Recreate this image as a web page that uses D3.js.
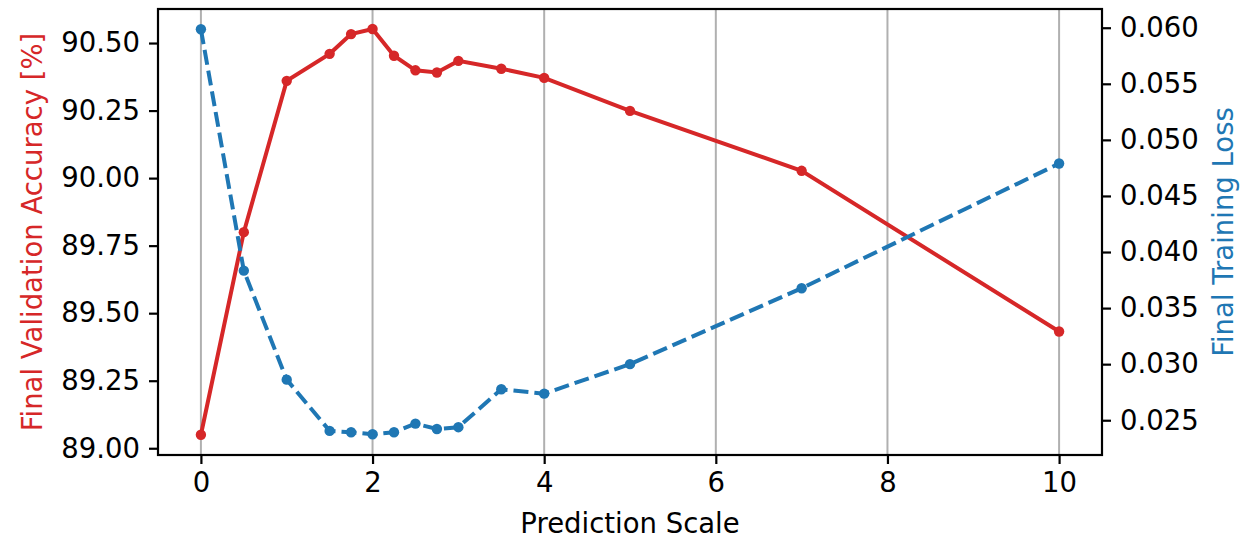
<!DOCTYPE html>
<html>
<head>
<meta charset="utf-8">
<script src="https://cdn.jsdelivr.net/npm/d3@7"></script>
<style>
  body { margin: 0; background: #fff; }
  svg text { font-family: "DejaVu Sans", sans-serif; }
</style>
</head>
<body>
<div id="chart"></div>
<script>
// data
var scales = [0, 0.5, 1, 1.5, 1.75, 2, 2.25, 2.5, 2.75, 3, 3.5, 4, 5, 7, 10];
var accuracy = [89.05, 89.80, 90.36, 90.46, 90.533, 90.552, 90.453, 90.399, 90.391, 90.434, 90.405, 90.371, 90.249, 90.027, 89.432];
var loss = [0.05986, 0.03834, 0.02862, 0.02405, 0.02393, 0.02375, 0.02393, 0.0247, 0.02422, 0.02438, 0.02776, 0.02737, 0.0300, 0.03677, 0.04789];
var xTicks = [0, 2, 4, 6, 8, 10];
var accTicks = [89.00, 89.25, 89.50, 89.75, 90.00, 90.25, 90.50];
var lossTicks = [0.025, 0.030, 0.035, 0.040, 0.045, 0.050, 0.055, 0.060];

var w = 1241;
var h = 538;
var plotL = 158, plotR = 1102, plotT = 9, plotB = 455;
var red = "#d62728", blue = "#1f77b4";
var fs = 27.5;

var svg = d3.select("#chart")
            .append("svg")
            .attr("width", w)
            .attr("height", h);

var x = d3.scaleLinear().domain([-0.5, 10.5]).range([plotL, plotR]);
var yAcc = d3.scaleLinear().domain([88.975, 90.626]).range([plotB, plotT]);
var yLoss = d3.scaleLinear().domain([0.0219, 0.06167]).range([plotB, plotT]);

// vertical grid lines
svg.selectAll("line.grid")
   .data(xTicks)
   .enter()
   .append("line")
   .attr("class", "grid")
   .attr("x1", function(d) { return x(d); })
   .attr("x2", function(d) { return x(d); })
   .attr("y1", plotT)
   .attr("y2", plotB)
   .attr("stroke", "#b0b0b0")
   .attr("stroke-width", 2);

// axes
var xAxis = svg.append("g")
   .attr("transform", "translate(0," + plotB + ")")
   .call(d3.axisBottom(x).tickValues(xTicks).tickFormat(d3.format("d")).tickSize(9).tickPadding(8));

var leftAxis = svg.append("g")
   .attr("transform", "translate(" + plotL + ",0)")
   .call(d3.axisLeft(yAcc).tickValues(accTicks).tickFormat(d3.format(".2f")).tickSize(9).tickPadding(9));

var rightAxis = svg.append("g")
   .attr("transform", "translate(" + plotR + ",0)")
   .call(d3.axisRight(yLoss).tickValues(lossTicks).tickFormat(d3.format(".3f")).tickSize(9).tickPadding(9));

[xAxis, leftAxis, rightAxis].forEach(function(g) {
    g.select(".domain").remove();
    g.selectAll(".tick line").attr("stroke", "#000").attr("stroke-width", 2.2);
    g.selectAll(".tick text").attr("font-size", fs).attr("fill", "#000")
     .attr("font-family", "DejaVu Sans, sans-serif");
});

// frame
svg.append("rect")
   .attr("x", plotL)
   .attr("y", plotT)
   .attr("width", plotR - plotL)
   .attr("height", plotB - plotT)
   .attr("fill", "none")
   .attr("stroke", "#000")
   .attr("stroke-width", 2.2);

// accuracy line
var accLine = d3.line()
    .x(function(d, i) { return x(scales[i]); })
    .y(function(d) { return yAcc(d); });

svg.append("path")
   .datum(accuracy)
   .attr("d", accLine)
   .attr("fill", "none")
   .attr("stroke", red)
   .attr("stroke-width", 4);

svg.selectAll("circle.acc")
   .data(accuracy)
   .enter()
   .append("circle")
   .attr("class", "acc")
   .attr("cx", function(d, i) { return x(scales[i]); })
   .attr("cy", function(d) { return yAcc(d); })
   .attr("r", 5.2)
   .attr("fill", red);

// loss line
var lossLine = d3.line()
    .x(function(d, i) { return x(scales[i]); })
    .y(function(d) { return yLoss(d); });

svg.append("path")
   .datum(loss)
   .attr("d", lossLine)
   .attr("fill", "none")
   .attr("stroke", blue)
   .attr("stroke-width", 4)
   .attr("stroke-dasharray", "15,6");

svg.selectAll("circle.loss")
   .data(loss)
   .enter()
   .append("circle")
   .attr("class", "loss")
   .attr("cx", function(d, i) { return x(scales[i]); })
   .attr("cy", function(d) { return yLoss(d); })
   .attr("r", 5.2)
   .attr("fill", blue);

// axis labels
svg.append("text")
   .text("Prediction Scale")
   .attr("x", (plotL + plotR) / 2)
   .attr("y", 533)
   .attr("text-anchor", "middle")
   .attr("font-size", fs)
   .attr("fill", "#000");

svg.append("text")
   .text("Final Validation Accuracy [%]")
   .attr("transform", "translate(42," + ((plotT + plotB) / 2) + ") rotate(-90)")
   .attr("text-anchor", "middle")
   .attr("font-size", fs)
   .attr("fill", red);

svg.append("text")
   .text("Final Training Loss")
   .attr("transform", "translate(1233," + ((plotT + plotB) / 2) + ") rotate(-90)")
   .attr("text-anchor", "middle")
   .attr("font-size", fs)
   .attr("fill", blue);
</script>
</body>
</html>
